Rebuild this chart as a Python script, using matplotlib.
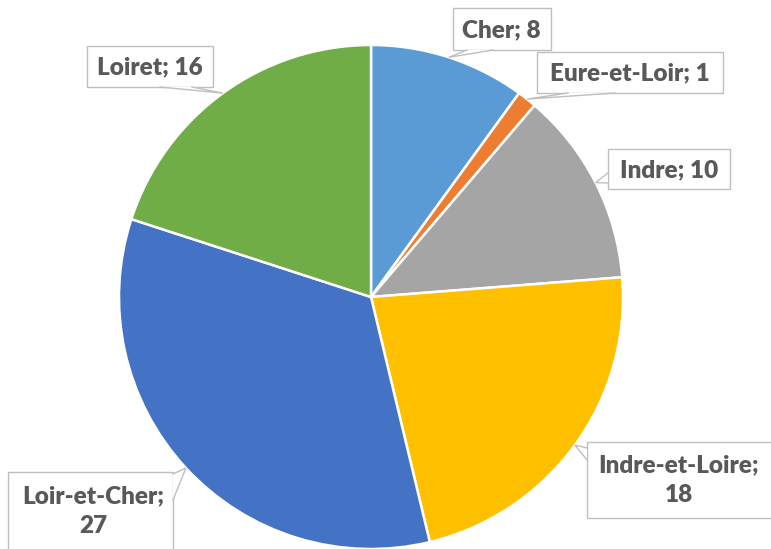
import numpy as np
import matplotlib.pyplot as plt
from matplotlib.patches import Rectangle, Polygon

# data
departements = ['Cher', 'Eure-et-Loir', 'Indre', 'Indre-et-Loire', 'Loir-et-Cher', 'Loiret']
valeurs = [8, 1, 10, 18, 27, 16]
couleurs = ['#5B9BD5', '#ED7D31', '#A5A5A5', '#FFC000', '#4472C4', '#70AD47']
coupure = ['Indre-et-Loire', 'Loir-et-Cher']  # labels on two lines

# layout (pixels, origin top-left)
W, H = 771, 549
centre = (371, 297)
rayon = 252
boites = [(453, 8, 551, 50), (537, 52, 723, 93), (608, 149, 730, 189),
          (587, 442, 775, 518), (8, 472, 173, 560), (87, 46, 213, 87)]
centres_txt = [(501, 30), (630, 73), (669, 170), (679, 480), (93, 511), (150, 67)]
bases = [((467, 50), (493, 50)), ((568, 93), (615, 93)), ((608, 173), (608, 183)),
         ((587, 448), (587, 460)), ((173, 474), (173, 500)), ((160, 87), (192, 87))]

fig = plt.figure(figsize=(W / 100, H / 100), dpi=100)
ax = fig.add_axes([0, 0, 1, 1])

wedges, _ = ax.pie(valeurs, colors=couleurs, center=centre, radius=rayon,
                   startangle=-90, counterclock=True,
                   wedgeprops=dict(edgecolor='white', linewidth=1.8))
ax.set_xlim(0, W)
ax.set_ylim(H, 0)
ax.set_aspect('equal')
ax.axis('off')

gris = '#BFBFBF'
texte = '#595959'
for w, nom, v, b, c, (p1, p2) in zip(wedges, departements, valeurs, boites,
                                     centres_txt, bases):
    a = np.deg2rad((w.theta1 + w.theta2) / 2)
    tip = (centre[0] + rayon * np.cos(a), centre[1] + rayon * np.sin(a))
    x0, y0, x1, y1 = b
    ax.add_patch(Rectangle((x0, y0), x1 - x0, y1 - y0, facecolor='white',
                           edgecolor=gris, linewidth=1.0, zorder=3))
    ax.add_patch(Polygon([p1, tip, p2], closed=True, facecolor='white',
                         edgecolor='none', zorder=4))
    ax.plot([p1[0], tip[0], p2[0]], [p1[1], tip[1], p2[1]], color=gris,
            linewidth=1.0, zorder=5, solid_joinstyle='miter')
    lab = f'{nom};\n{v}' if nom in coupure else f'{nom}; {v}'
    ax.text(c[0], c[1], lab, ha='center', va='center',
            fontsize=17.5, fontweight='heavy', family=['Lato', 'DejaVu Sans'],
            color=texte, linespacing=1.45, zorder=6)

fig.savefig('out.png', dpi=100)
